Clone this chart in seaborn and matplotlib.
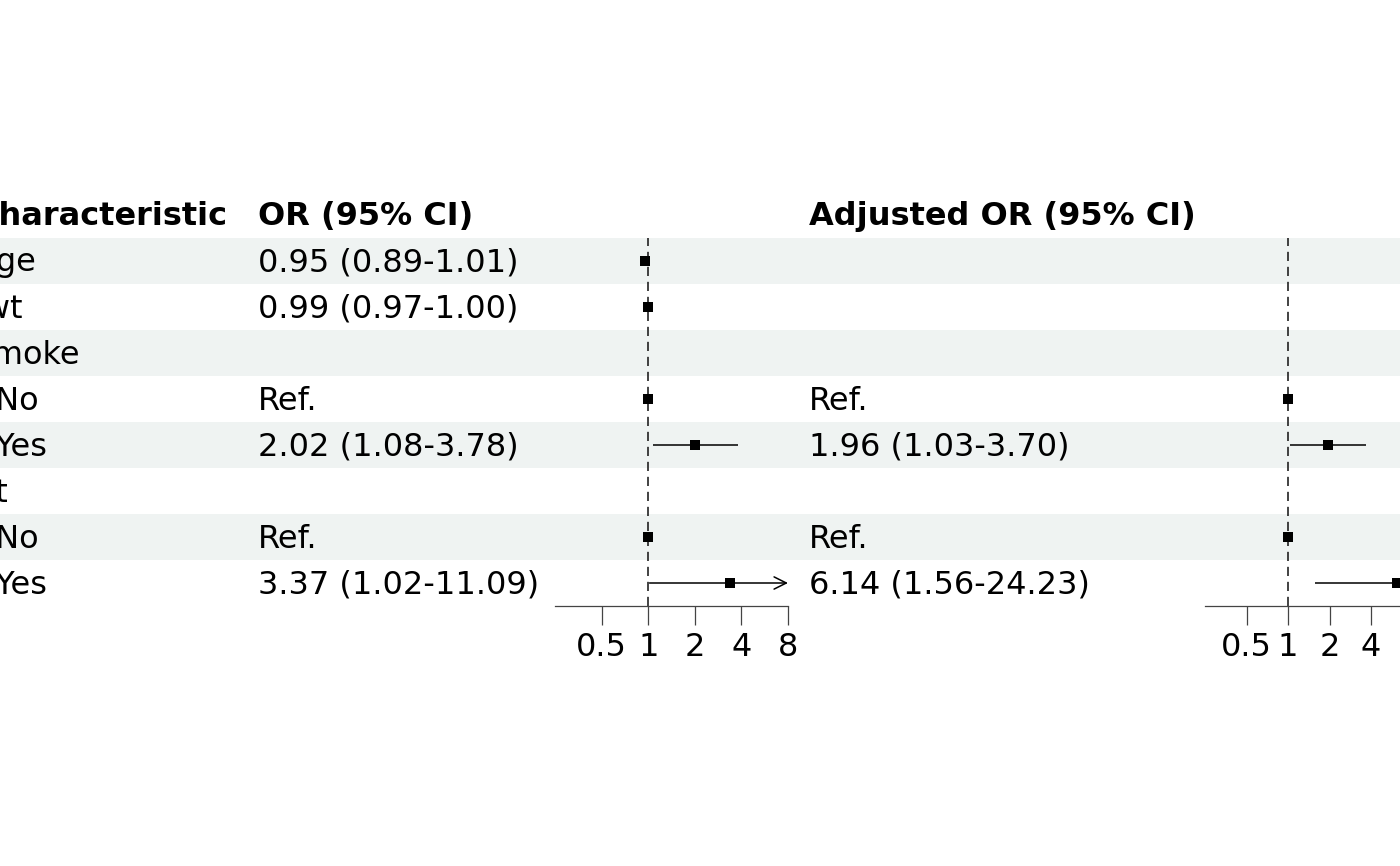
import numpy as np
import pandas as pd
import matplotlib
matplotlib.use("Agg")
import matplotlib.pyplot as plt
from matplotlib.ticker import NullLocator
import seaborn as sns

# data
labels = ["Age", "lwt", "smoke", "  No", "  Yes", "ht", "  No", "  Yes"]
or_text = ["0.95 (0.89-1.01)", "0.99 (0.97-1.00)", "", "Ref.",
           "2.02 (1.08-3.78)", "", "Ref.", "3.37 (1.02-11.09)"]
or_est = [0.95, 0.99, np.nan, 1.0, 2.02, np.nan, 1.0, 3.37]
or_lo = [0.89, 0.97, np.nan, 1.0, 1.08, np.nan, 1.0, 1.02]
or_hi = [1.01, 1.00, np.nan, 1.0, 3.78, np.nan, 1.0, 11.09]
adj_text = ["", "", "", "Ref.", "1.96 (1.03-3.70)", "", "Ref.", "6.14 (1.56-24.23)"]
adj_est = [np.nan, np.nan, np.nan, 1.0, 1.96, np.nan, 1.0, 6.14]
adj_lo = [np.nan, np.nan, np.nan, 1.0, 1.03, np.nan, 1.0, 1.56]
adj_hi = [np.nan, np.nan, np.nan, 1.0, 3.70, np.nan, 1.0, 24.23]
headers = ["Characteristic", "OR (95% CI)", "Adjusted OR (95% CI)"]
ticks_or = [0.5, 1, 2, 4, 8]
ticks_adj = [0.5, 1, 2, 4, 8, 16]

sns.set_theme(style="white")
plt.rcParams['font.family'] = ['DejaVu Sans']
plt.rcParams['text.color'] = 'black'
plt.rcParams['xtick.color'] = 'black'
fs = 23
W, H = 1400, 866

fig = plt.figure(figsize=(14, 8.66), dpi=100)
bg = fig.add_axes([0, 0, 1, 1])
bg.set_xlim(0, W)
bg.set_ylim(H, 0)
bg.axis('off')

top, row_h = 238, 46
n = len(labels)
centers = [top + row_h * (i + 0.5) for i in range(n)]

# striped rows
for i in range(0, n, 2):
    bg.axhspan(top + row_h * i, top + row_h * (i + 1), color='#EFF3F2', lw=0, zorder=0)

# table text
hy = 225
bg.text(-25, hy, headers[0], fontsize=fs, fontweight='bold', va='baseline')
bg.text(258, hy, headers[1], fontsize=fs, fontweight='bold', va='baseline')
bg.text(809, hy, headers[2], fontsize=fs, fontweight='bold', va='baseline')
for i in range(n):
    y = centers[i] + 10.5
    bg.text(-25, y, labels[i], fontsize=fs, va='baseline')
    bg.text(258, y, or_text[i], fontsize=fs, va='baseline')
    bg.text(809, y, adj_text[i], fontsize=fs, va='baseline')


def forest(x0, x1, lim, est, lo, hi, ticks):
    ax = fig.add_axes([x0 / W, 1 - (top + row_h * n) / H, (x1 - x0) / W, row_h * n / H])
    ax.patch.set_alpha(0)
    ax.set_xscale('log', base=2)
    ax.set_xlim(*lim)
    ax.set_ylim(n - 0.5, -0.5)
    df = pd.DataFrame({'row': np.arange(n), 'est': est, 'lo': lo, 'hi': hi}).dropna()
    ax.axvline(1, color='#222222', lw=1.2, ls=(0, (5.5, 3.5)), zorder=1)
    for _, r in df.iterrows():
        if r['hi'] > lim[1]:
            ax.annotate('', xy=(lim[1], r['row']), xytext=(r['lo'], r['row']),
                        arrowprops=dict(arrowstyle='->', lw=1.1, color='black',
                                        shrinkA=0, shrinkB=0, mutation_scale=22))
        elif r['hi'] > r['lo']:
            ax.hlines(r['row'], r['lo'], r['hi'], color='black', lw=1.1, zorder=2)
    sns.scatterplot(data=df, x='est', y='row', marker='s', color='black', s=48,
                    linewidth=0, ax=ax, legend=False, zorder=3)
    ax.set_xlabel('')
    ax.set_ylabel('')
    ax.set_yticks([])
    for s in ['top', 'right', 'left']:
        ax.spines[s].set_visible(False)
    ax.spines['bottom'].set_color('#444444')
    ax.spines['bottom'].set_linewidth(0.9)
    ax.xaxis.set_minor_locator(NullLocator())
    ax.set_xticks(ticks, [f"{t:g}" for t in ticks])
    ax.tick_params(axis='x', direction='out', length=14, width=0.9, color='#444444',
                   labelcolor='black', pad=5, labelsize=fs, bottom=True)
    return ax


forest(555, 788, (0.25, 8), or_est, or_lo, or_hi, ticks_or)
forest(1205, 1205 + 7 * 41.5, (0.25, 32), adj_est, adj_lo, adj_hi, ticks_adj)

fig.savefig('out.png', dpi=100)
